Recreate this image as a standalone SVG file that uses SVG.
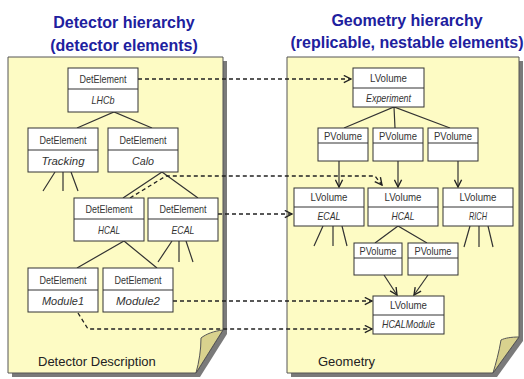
<svg xmlns="http://www.w3.org/2000/svg" width="524" height="379" viewBox="0 0 524 379">
<style>
.title{font-family:"Liberation Sans",Arial,sans-serif;font-weight:bold;font-size:16px;fill:#20209e;text-anchor:middle}
.page{fill:#fdfbc4;stroke:#555;stroke-width:1}
.shadow{fill:#7a7a7a}
.flap{fill:#d9d28e;stroke:#555;stroke-width:1}
.box{fill:#fff;stroke:#333;stroke-width:1}
.div{stroke:#333;stroke-width:1}
.t{font-family:"Liberation Sans",Arial,sans-serif;font-size:11px;fill:#333;text-anchor:middle}
.i{font-style:italic}
.lbl{font-family:"Liberation Sans",Arial,sans-serif;font-size:13px;fill:#222}
.ln{stroke:#333;stroke-width:1.2;fill:none}
.dash{stroke:#222;stroke-width:1.3;fill:none;stroke-dasharray:4 3}
</style>
<defs>
<marker id="v" viewBox="0 0 10 10" refX="9" refY="5" markerWidth="9" markerHeight="9" orient="auto" markerUnits="userSpaceOnUse">
<path d="M1,1 L9,5 L1,9" fill="none" stroke="#222" stroke-width="1.5"/>
</marker>
</defs>

<text class="title" x="124" y="28">Detector hierarchy</text>
<text class="title" x="124" y="51">(detector elements)</text>
<text class="title" x="407" y="26">Geometry hierarchy</text>
<text class="title" x="407" y="48">(replicable, nestable elements)</text>

<g id="page-detector">
<path class="shadow" d="M12,61 H227 V334 L200,377 H12 Z"/>
<path class="page" d="M8,57 H223 V330 L196,373 H8 Z"/>
<path class="flap" d="M223,330 C214,331 206,334 201,338 C201,350 199,362 196,373 Z"/>
<text class="lbl" x="38" y="366">Detector Description</text>
</g>
<g id="page-geometry">
<path class="shadow" d="M291,61 H523 V341 L497,377 H291 Z"/>
<path class="page" d="M287,57 H519 V337 L493,373 H287 Z"/>
<path class="flap" d="M519,337 C511,337 505,338 501,340 C499,352 496,363 493,373 Z"/>
<text class="lbl" x="318" y="366">Geometry</text>
</g>

<g id="connectors">
<path class="ln" d="M77,128 L114,112 L152,128"/>
<path class="ln" d="M55,172 L43,191 M63,172 L63,191 M71,172 L78,191"/>
<path class="ln" d="M123,198 L162,172 L198,198"/>
<path class="ln" d="M77,268 L124,241 L157,268"/>
<path class="ln" d="M172,241 L158,262 M179,241 L179,262 M186,241 L193,262"/>
<path class="ln" d="M344,128 L394,107 L450,128 M394,107 L395,128"/>
<path class="ln" marker-end="url(#v)" d="M339,161 V187"/>
<path class="ln" marker-end="url(#v)" d="M398,161 V187"/>
<path class="ln" marker-end="url(#v)" d="M458,161 V187"/>
<path class="ln" d="M323,226 L314,246 M333,226 L333,246 M342,226 L347,246"/>
<path class="ln" d="M470,226 L464,247 M479,226 L479,247 M488,226 L493,247"/>
<path class="ln" d="M375,243 L398,226 L427,243"/>
<path class="ln" marker-end="url(#v)" d="M384,275 L397,295"/>
<path class="ln" marker-end="url(#v)" d="M428,275 L414,295"/>
<path class="dash" marker-end="url(#v)" d="M138,79 H351"/>
<path class="dash" marker-end="url(#v)" d="M130,198 L166,176 H375 L382,185"/>
<path class="dash" marker-end="url(#v)" d="M218,214 H292"/>
<path class="dash" marker-end="url(#v)" d="M173,301 H372"/>
<path class="dash" marker-end="url(#v)" d="M78,313 L88,329 H372"/>
</g>

<g id="det-lhcb">
<rect class="box" x="68" y="68" width="70" height="44"/><line class="div" x1="68" y1="89" x2="138" y2="89"/>
<text class="t" x="103" y="83" textLength="47" lengthAdjust="spacingAndGlyphs">DetElement</text>
<text class="t i" x="103" y="104" textLength="23" lengthAdjust="spacingAndGlyphs">LHCb</text>
</g>
<g id="det-tracking">
<rect class="box" x="28" y="128" width="70" height="44"/><line class="div" x1="28" y1="150" x2="98" y2="150"/>
<text class="t" x="63" y="144" textLength="47" lengthAdjust="spacingAndGlyphs">DetElement</text>
<text class="t i" x="63" y="165" textLength="43" lengthAdjust="spacingAndGlyphs">Tracking</text>
</g>
<g id="det-calo">
<rect class="box" x="108" y="128" width="70" height="44"/><line class="div" x1="108" y1="150" x2="178" y2="150"/>
<text class="t" x="143" y="144" textLength="47" lengthAdjust="spacingAndGlyphs">DetElement</text>
<text class="t i" x="143" y="165" textLength="22" lengthAdjust="spacingAndGlyphs">Calo</text>
</g>
<g id="det-hcal">
<rect class="box" x="74" y="198" width="70" height="43"/><line class="div" x1="74" y1="219" x2="144" y2="219"/>
<text class="t" x="109" y="213" textLength="47" lengthAdjust="spacingAndGlyphs">DetElement</text>
<text class="t i" x="109" y="234" textLength="22" lengthAdjust="spacingAndGlyphs">HCAL</text>
</g>
<g id="det-ecal">
<rect class="box" x="148" y="198" width="70" height="43"/><line class="div" x1="148" y1="219" x2="218" y2="219"/>
<text class="t" x="183" y="213" textLength="47" lengthAdjust="spacingAndGlyphs">DetElement</text>
<text class="t i" x="183" y="234" textLength="23" lengthAdjust="spacingAndGlyphs">ECAL</text>
</g>
<g id="det-module1">
<rect class="box" x="28" y="268" width="70" height="44"/><line class="div" x1="28" y1="290" x2="98" y2="290"/>
<text class="t" x="63" y="284" textLength="47" lengthAdjust="spacingAndGlyphs">DetElement</text>
<text class="t i" x="63" y="305" textLength="42" lengthAdjust="spacingAndGlyphs">Module1</text>
</g>
<g id="det-module2">
<rect class="box" x="103" y="268" width="70" height="44"/><line class="div" x1="103" y1="290" x2="173" y2="290"/>
<text class="t" x="138" y="284" textLength="47" lengthAdjust="spacingAndGlyphs">DetElement</text>
<text class="t i" x="138" y="305" textLength="44" lengthAdjust="spacingAndGlyphs">Module2</text>
</g>

<g id="geo-experiment">
<rect class="box" x="353" y="68" width="71" height="39"/><line class="div" x1="353" y1="88" x2="424" y2="88"/>
<text class="t" x="388.5" y="82" textLength="37" lengthAdjust="spacingAndGlyphs">LVolume</text>
<text class="t i" x="388.5" y="102" textLength="45" lengthAdjust="spacingAndGlyphs">Experiment</text>
</g>
<g id="geo-pv1">
<rect class="box" x="318" y="128" width="50" height="33"/><line class="div" x1="318" y1="143" x2="368" y2="143"/>
<text class="t" x="343" y="140" textLength="38" lengthAdjust="spacingAndGlyphs">PVolume</text>
</g>
<g id="geo-pv2">
<rect class="box" x="373" y="128" width="50" height="33"/><line class="div" x1="373" y1="143" x2="423" y2="143"/>
<text class="t" x="398" y="140" textLength="38" lengthAdjust="spacingAndGlyphs">PVolume</text>
</g>
<g id="geo-pv3">
<rect class="box" x="428" y="128" width="50" height="33"/><line class="div" x1="428" y1="143" x2="478" y2="143"/>
<text class="t" x="453" y="140" textLength="38" lengthAdjust="spacingAndGlyphs">PVolume</text>
</g>
<g id="geo-ecal">
<rect class="box" x="294" y="188" width="70" height="38"/><line class="div" x1="294" y1="207" x2="364" y2="207"/>
<text class="t" x="329" y="201" textLength="37" lengthAdjust="spacingAndGlyphs">LVolume</text>
<text class="t i" x="329" y="220" textLength="23" lengthAdjust="spacingAndGlyphs">ECAL</text>
</g>
<g id="geo-hcal">
<rect class="box" x="368" y="188" width="70" height="38"/><line class="div" x1="368" y1="207" x2="438" y2="207"/>
<text class="t" x="403" y="201" textLength="37" lengthAdjust="spacingAndGlyphs">LVolume</text>
<text class="t i" x="403" y="220" textLength="23" lengthAdjust="spacingAndGlyphs">HCAL</text>
</g>
<g id="geo-rich">
<rect class="box" x="443" y="188" width="70" height="38"/><line class="div" x1="443" y1="207" x2="513" y2="207"/>
<text class="t" x="478" y="201" textLength="37" lengthAdjust="spacingAndGlyphs">LVolume</text>
<text class="t i" x="478" y="220" textLength="18" lengthAdjust="spacingAndGlyphs">RICH</text>
</g>
<g id="geo-pv4">
<rect class="box" x="354" y="243" width="48" height="32"/><line class="div" x1="354" y1="258" x2="402" y2="258"/>
<text class="t" x="378" y="255" textLength="37" lengthAdjust="spacingAndGlyphs">PVolume</text>
</g>
<g id="geo-pv5">
<rect class="box" x="408" y="243" width="50" height="32"/><line class="div" x1="408" y1="258" x2="458" y2="258"/>
<text class="t" x="433" y="255" textLength="37" lengthAdjust="spacingAndGlyphs">PVolume</text>
</g>
<g id="geo-hcalmodule">
<rect class="box" x="373" y="296" width="71" height="38"/><line class="div" x1="373" y1="315" x2="444" y2="315"/>
<text class="t" x="408.5" y="309" textLength="37" lengthAdjust="spacingAndGlyphs">LVolume</text>
<text class="t i" x="408.5" y="328" textLength="53" lengthAdjust="spacingAndGlyphs">HCALModule</text>
</g>
</svg>
